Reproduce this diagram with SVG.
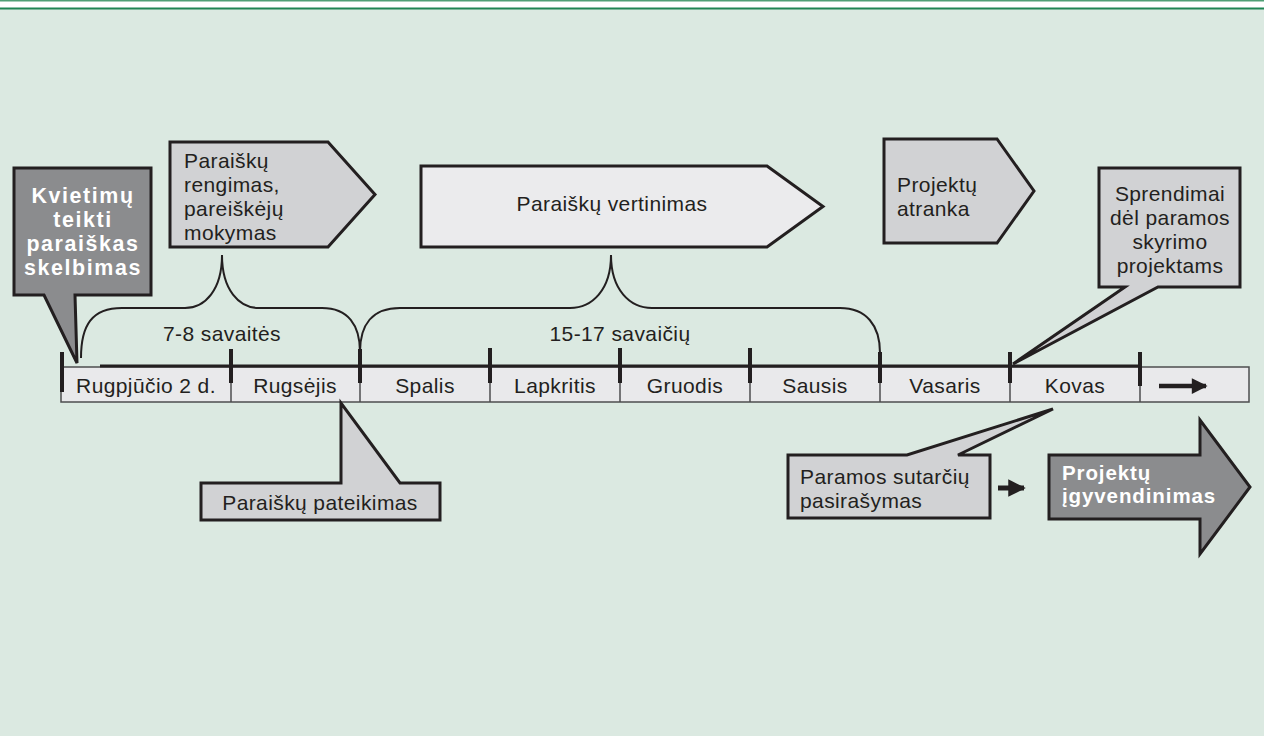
<svg xmlns="http://www.w3.org/2000/svg" width="1264" height="736" viewBox="0 0 1264 736">
<style>
.t{font-family:"Liberation Sans",Arial,sans-serif;font-size:21px;letter-spacing:0.4px;fill:#231f20}
.tc{text-anchor:middle}
.b{font-family:"Liberation Sans",Arial,sans-serif;font-weight:bold;fill:#ffffff}
.box{stroke:#231f20;stroke-width:3;stroke-linejoin:miter}
.dark{fill:#8b8c8e}
.mid{fill:#d1d2d4}
.light{fill:#ebebed}
.brace{fill:none;stroke:#231f20;stroke-width:2}
.tick{stroke:#231f20;stroke-width:4}
.div{stroke:#4d4d4f;stroke-width:1.5}
</style>
<defs>
<marker id="ah" viewBox="0 0 10 10" refX="9" refY="5" markerWidth="4" markerHeight="3.5" orient="auto" markerUnits="strokeWidth">
<path d="M0 0 L10 5 L0 10 Z" fill="#231f20"/>
</marker>
</defs>
<rect x="0" y="0" width="1264" height="736" fill="#ffffff"/>
<rect x="0" y="8" width="1264" height="728" fill="#dbe9e1"/>
<rect x="0" y="0" width="1264" height="1.5" fill="#4f9f75"/>
<rect x="0" y="7.5" width="1264" height="2" fill="#1f8554"/>

<g id="timeline">
<rect x="61" y="367" width="1188" height="35" fill="#e9e9eb" stroke="#4d4d4f" stroke-width="1.5"/>
<g class="div">
<line x1="231" y1="367" x2="231" y2="402"/><line x1="360" y1="367" x2="360" y2="402"/>
<line x1="490" y1="367" x2="490" y2="402"/><line x1="620" y1="367" x2="620" y2="402"/>
<line x1="750" y1="367" x2="750" y2="402"/><line x1="880" y1="367" x2="880" y2="402"/>
<line x1="1010" y1="367" x2="1010" y2="402"/><line x1="1140" y1="367" x2="1140" y2="402"/>
</g>
<line x1="100" y1="366" x2="1140" y2="366" stroke="#231f20" stroke-width="3"/>
<g class="tick">
<line x1="62" y1="352" x2="62" y2="392"/><line x1="231" y1="349" x2="231" y2="383"/>
<line x1="360" y1="349" x2="360" y2="383"/><line x1="490" y1="348" x2="490" y2="383"/>
<line x1="620" y1="348" x2="620" y2="383"/><line x1="750" y1="348" x2="750" y2="383"/>
<line x1="880" y1="352" x2="880" y2="383"/><line x1="1010" y1="352" x2="1010" y2="383"/>
<line x1="1140" y1="352" x2="1140" y2="386"/>
</g>
<g class="t tc">
<text x="146" y="393">Rugpjūčio 2 d.</text>
<text x="295" y="393">Rugsėjis</text>
<text x="425" y="393">Spalis</text>
<text x="555" y="393">Lapkritis</text>
<text x="685" y="393">Gruodis</text>
<text x="815" y="393">Sausis</text>
<text x="945" y="393">Vasaris</text>
<text x="1075" y="393">Kovas</text>
</g>
<line x1="1159" y1="386" x2="1206" y2="386" stroke="#231f20" stroke-width="4.5" marker-end="url(#ah)"/>
</g>

<g id="connectors">
<path class="brace" d="M81 358 C81 325 92 308 122 308 L185 308 C205 308 222 290 222 255 C222 290 239 308 259 308 L322 308 C348 308 360 325 360 352"/>
<path class="brace" d="M360 352 C360 325 372 308 400 308 L570 308 C592 308 611 290 611 255 C611 290 630 308 652 308 L840 308 C866 308 880 325 880 353"/>
<text class="t tc" x="222" y="341">7-8 savaitės</text>
<text class="t tc" x="620" y="341">15-17 savaičių</text>
<line x1="998" y1="488" x2="1024" y2="488" stroke="#231f20" stroke-width="5" marker-end="url(#ah)"/>
</g>

<g id="kvietimu">
<path class="box dark" d="M14 168 H151 V295 H75 L77 363 L44 295 H14 Z"/>
<g class="b" text-anchor="middle" font-size="21.4" letter-spacing="1.6">
<text x="83" y="203">Kvietimų</text>
<text x="83" y="227">teikti</text>
<text x="83" y="251">paraiškas</text>
<text x="83" y="275">skelbimas</text>
</g>
</g>

<g id="rengimas">
<path class="box mid" d="M170 142 H328 L375 194.5 L328 247 H170 Z"/>
<g class="t">
<text x="184" y="168">Paraiškų</text>
<text x="184" y="192">rengimas,</text>
<text x="184" y="216">pareiškėjų</text>
<text x="184" y="240">mokymas</text>
</g>
</g>

<g id="vertinimas">
<path class="box light" d="M421 166 H767 L823 206.5 L767 247 H421 Z"/>
<text class="t tc" x="612" y="211">Paraiškų vertinimas</text>
</g>

<g id="atranka">
<path class="box mid" d="M884 139 H997 L1034 191 L997 243 H884 Z"/>
<g class="t">
<text x="897" y="192">Projektų</text>
<text x="897" y="216">atranka</text>
</g>
</g>

<g id="sprendimai">
<path class="box mid" d="M1099 168 H1240 V287 H1158 L1013 364 L1125 287 H1099 Z"/>
<g class="t tc">
<text x="1170" y="201">Sprendimai</text>
<text x="1170" y="225">dėl paramos</text>
<text x="1170" y="249">skyrimo</text>
<text x="1170" y="273">projektams</text>
</g>
</g>

<g id="pateikimas">
<path class="box mid" d="M201 483 H341 V403 L400 483 H440 V520 H201 Z"/>
<text class="t tc" x="320" y="510">Paraiškų pateikimas</text>
</g>

<g id="sutartys">
<path class="box mid" d="M788 455 H907 L1053 409 L958 455 H990 V518 H788 Z"/>
<g class="t">
<text x="800" y="484">Paramos sutarčių</text>
<text x="800" y="508">pasirašymas</text>
</g>
</g>

<g id="igyvendinimas">
<path class="box dark" d="M1049 455 H1200 V420 L1250 487 L1200 554 V519 H1049 Z"/>
<g class="b" font-size="20.5" letter-spacing="0.9">
<text x="1062" y="480">Projektų</text>
<text x="1062" y="503">įgyvendinimas</text>
</g>
</g>
</svg>
